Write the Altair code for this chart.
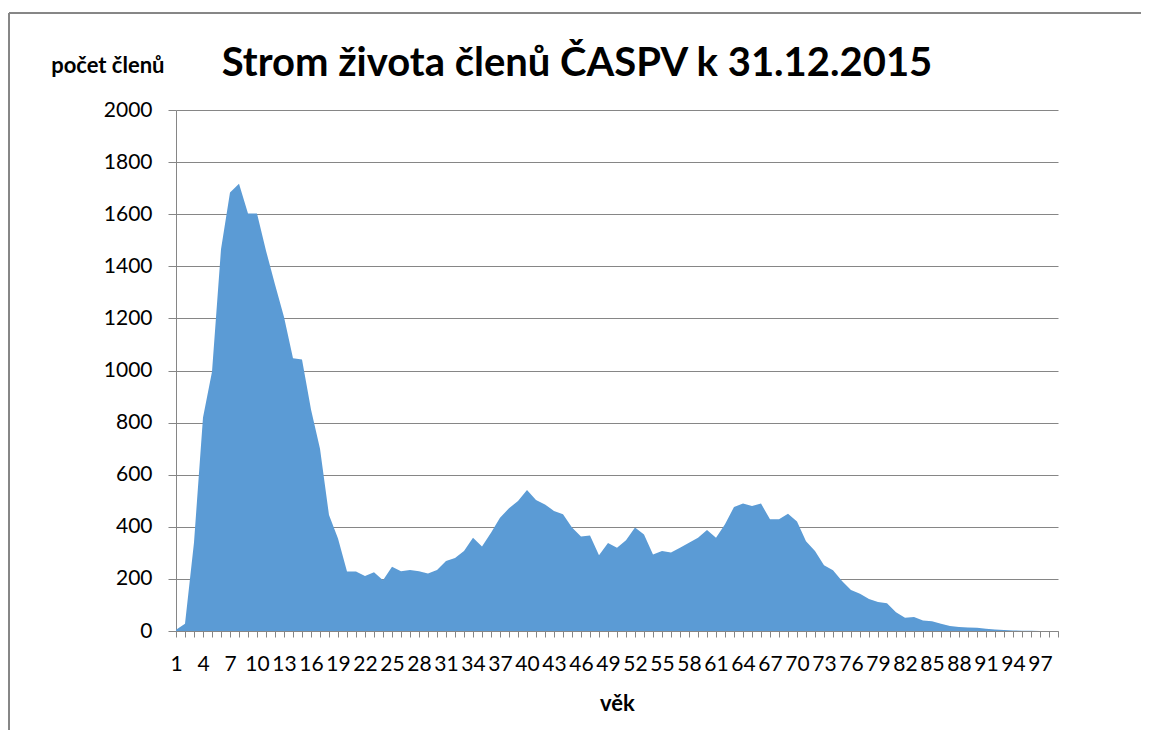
import altair as alt
import pandas as pd

ages = list(range(1, 100))
members = [
    5, 28, 340, 820, 995, 1465, 1683, 1717, 1603, 1603,
    1460, 1330, 1205, 1047, 1042, 850, 700, 445, 355, 228,
    228, 211, 226, 195, 247, 229, 234, 229, 221, 234,
    269, 280, 307, 358, 324, 377, 435, 471, 499, 541,
    503, 486, 461, 448, 397, 363, 367, 291, 338, 320,
    348, 397, 370, 294, 307, 301, 320, 339, 358, 388,
    358, 410, 476, 489, 480, 489, 429, 429, 450, 420,
    345, 307, 252, 233, 192, 157, 143, 123, 111, 107,
    72, 51, 54, 40, 37, 28, 19, 15, 13, 12,
    9, 6, 4, 2, 1, 1, 0, 0, 0,
]
y_ticks = list(range(0, 2001, 200))

df = pd.DataFrame({"vek": ages, "pocet": members})

W, H = 882, 521
GRAY = "#868686"

area = alt.Chart(df).mark_area(color="#5B9BD5").encode(
    x=alt.X(
        "vek:Q",
        scale=alt.Scale(domain=[1, 99], nice=False, zero=False),
        axis=alt.Axis(
            values=ages,
            format="d",
            labelExpr="(datum.value - 1) % 3 == 0 ? datum.label : ''",
            labelOverlap=False,
            labelFlush=False,
            labelBound=False,
            grid=False,
            tickSize=6,
            tickColor=GRAY,
            domainColor=GRAY,
            labelFont="Lato",
            labelFontSize=21,
            labelColor="#000000",
            labelPadding=16,
            title="věk",
            titleFont="Lato",
            titleFontSize=22,
            titleFontWeight="bold",
            titleColor="#000000",
            titleBaseline="alphabetic",
            titleY=79,
        ),
    ),
    y=alt.Y(
        "pocet:Q",
        scale=alt.Scale(domain=[0, 2000], nice=False),
        axis=alt.Axis(
            values=y_ticks,
            format="d",
            grid=True,
            gridColor=GRAY,
            tickSize=8,
            tickColor=GRAY,
            domainColor=GRAY,
            labelFont="Lato",
            labelFontSize=21,
            labelColor="#000000",
            labelPadding=16,
            title="počet členů",
            titleFont="Lato",
            titleFontSize=22,
            titleFontWeight="bold",
            titleColor="#000000",
            titleAngle=0,
            titleAlign="right",
            titleBaseline="alphabetic",
            titleX=-12,
            titleY=-38,
        ),
    ),
)

border_top = alt.Chart(df).mark_rule(color=GRAY, strokeWidth=1).encode(
    x=alt.value(-167), x2=alt.value(965), y=alt.value(-97)
)
border_left = alt.Chart(df).mark_rule(color=GRAY, strokeWidth=1).encode(
    x=alt.value(-167), y=alt.value(-97), y2=alt.value(620)
)

chart = alt.layer(border_top, border_left, area).properties(
    width=W,
    height=H,
    padding={"left": 0, "top": 4, "right": 0, "bottom": 0},
    title=alt.Title(
        "Strom života členů ČASPV k 31.12.2015",
        font="Lato",
        fontSize=40,
        fontWeight="bold",
        color="#000000",
        anchor="middle",
        dx=-40,
        dy=75,
    ),
).configure_view(stroke=None)

chart.save("out.html", embed_options={"renderer": "svg", "actions": False})
